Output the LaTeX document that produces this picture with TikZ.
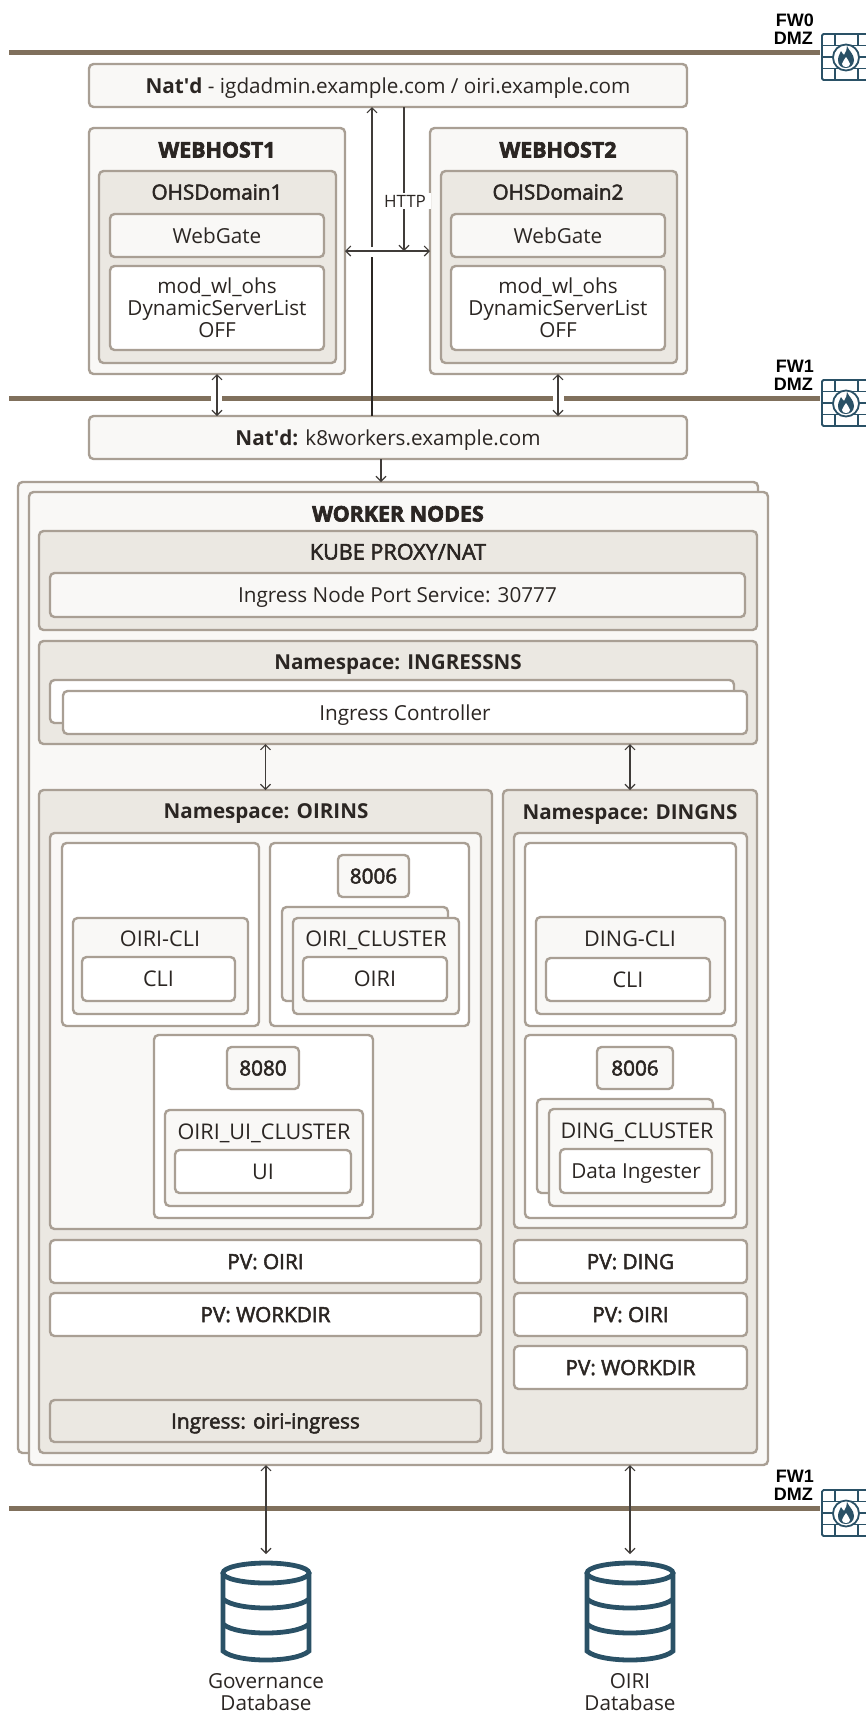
\documentclass[tikz,border=0pt]{standalone}
\usepackage{fontspec}
\usepackage{xcolor}
\setmainfont{Open Sans}
\newfontfamily\labelfont{Liberation Sans}
\usetikzlibrary{arrows.meta}

\definecolor{edgecol}{HTML}{A99F94}
\definecolor{lightcol}{HTML}{F9F8F6}
\definecolor{greycol}{HTML}{EBE8E2}
\definecolor{textcol}{HTML}{2B2623}
\definecolor{barcol}{HTML}{80705C}
\definecolor{bluecol}{HTML}{2A5166}

\newcommand{\mainsize}{\fontsize{20.7}{22}\selectfont}
\newcommand{\capsize}{\fontsize{21.6}{22}\selectfont}
\newcommand{\medw}{\addfontfeature{FakeBold=2.5}}
\newcommand{\heavy}{\bfseries\addfontfeature{FakeBold=3}}

\tikzset{
	basebox/.style={draw=edgecol, line width=2.4pt, rounded corners=4.5pt, inner sep=0pt, outer sep=0pt, text=textcol, font=\mainsize, text height=15pt, text depth=0pt},
	lightbox/.style={basebox, fill=lightcol},
	greybox/.style={basebox, fill=greycol},
	whitebox/.style={basebox, fill=white},
	capbox/.style={whitebox, font=\capsize},
	medbox/.style={font=\mainsize\medw},
	title/.style={text=textcol, inner sep=0pt, font=\capsize, text height=15pt, text depth=0pt},
	boldtitle/.style={title, font=\fontsize{20.6}{22}\selectfont\bfseries},
	medtitle/.style={title, font=\mainsize\medw},
	heavytitle/.style={title, font=\fontsize{21.4}{22}\selectfont\heavy},
	multi/.style={align=center, text height=, text depth=},
	bar/.style={draw=barcol, line width=5pt},
	link/.style={draw=textcol!90, line width=1.1pt, {Straight Barb[length=5pt,width=10pt]}-{Straight Barb[length=5pt,width=10pt]}},
	linkto/.style={draw=textcol!90, line width=1.1pt, -{Straight Barb[length=5pt,width=10pt]}},
	plain/.style={draw=textcol, line width=1.1pt},
	fwlabel/.style={font=\labelfont\bfseries\fontsize{18}{18}\selectfont, align=center, inner sep=0pt, text=black},
	dbline/.style={draw=bluecol, line width=4.8pt},
	fwline/.style={draw=bluecol, line width=1.8pt}
}

\newcommand{\bx}[7]{\node[#1, minimum width={(#5-#3)*1pt}, minimum height={(#6-#4)*1pt}] (#2) at ({(#3+#5)/2},{(#4+#6)/2}) {#7};}

\newcommand{\firewall}[2]{
	\node[fwlabel, anchor=east] at (814,#1-32) {FW#2};
	\node[fwlabel, anchor=east] at (813,#1-14) {DMZ};
	\begin{scope}[shift={(0,#1-52)}]
		\draw[fwline, rounded corners=1.5pt] (880,34) -- (822,34) -- (822,80) -- (880,80);
		\draw[fwline] (822,45.5) -- (880,45.5) (822,68.5) -- (880,68.5);
		\draw[fwline] (822,57) -- (834,57) (858,57) -- (880,57);
		\draw[fwline] (835,34) -- (835,45.5) (858,34) -- (858,45.5) (835,68.5) -- (835,80) (858,68.5) -- (858,80);
		\filldraw[fwline, fill=white] (846,57.5) circle (13);
		\fill[bluecol] (847,46) .. controls (849,51) and (854,54) .. (854,60) .. controls (854,65) and (850,68) .. (846,68) .. controls (841,68) and (838,65) .. (838,60) .. controls (838,56) and (840,54) .. (841,51) .. controls (842,53) and (843,54) .. (844,55) .. controls (846,52) and (847,49) .. (847,46) -- cycle;
		\fill[white] (846,57) .. controls (847,60) and (850,61) .. (850,64) .. controls (850,66) and (848,67) .. (846,67) .. controls (844,67) and (842,66) .. (842,64) .. controls (842,61) and (845,60) .. (846,57) -- cycle;
	\end{scope}
}

\newcommand{\dbicon}[1]{
	\begin{scope}[shift={(#1,0)}]
		\draw[dbline] (0,1573) ellipse (43 and 10);
		\draw[dbline, line cap=round] (-43,1573) -- (-43,1651) .. controls (-30,1663) and (30,1663) .. (43,1651) -- (43,1573);
		\draw[dbline] (-43,1599) .. controls (-30,1611) and (30,1611) .. (43,1599);
		\draw[dbline] (-43,1624) .. controls (-30,1636) and (30,1636) .. (43,1624);
	\end{scope}
}

\begin{document}
\begin{tikzpicture}[x=1pt, y=-1pt]

	\useasboundingbox (0,0) rectangle (866,1714);

	\draw[bar] (9,52) -- (820,52);
	\draw[bar] (9,398) -- (211,398) (222,398) -- (553,398) (564,398) -- (820,398);
	\draw[bar] (9,1508) -- (820,1508);

	\firewall{52}{0}
	\firewall{398}{1}
	\firewall{1508}{1}

	\bx{lightbox}{natone}{89}{64}{687}{107}{\textbf{Nat\textquotesingle d} - igdadmin.example.com / oiri.example.com}

	\bx{lightbox}{hostone}{89}{128}{345}{374}{}
	\bx{greybox}{domone}{99}{171}{336}{363}{}
	\bx{lightbox}{gateone}{110}{214}{324}{257}{WebGate}
	\bx{whitebox, multi}{modone}{110}{266}{324}{350}{mod\_wl\_ohs\\DynamicServerList\\OFF}
	\node[heavytitle] (hostonet) at (217,150) {WEBHOST1};
	\node[medtitle] (domonet) at (217,192) {OHSDomain1};

	\bx{lightbox}{hosttwo}{430}{128}{687}{374}{}
	\bx{greybox}{domtwo}{441}{171}{677}{363}{}
	\bx{lightbox}{gatetwo}{451}{214}{665}{257}{WebGate}
	\bx{whitebox, multi}{modtwo}{451}{266}{665}{350}{mod\_wl\_ohs\\DynamicServerList\\OFF}
	\node[heavytitle] (hosttwot) at (558,150) {WEBHOST2};
	\node[medtitle] (domtwot) at (558,192) {OHSDomain2};

	\bx{lightbox}{nattwo}{89}{416}{687}{459}{\textbf{Nat\textquotesingle d:} k8workers.example.com}

	\bx{lightbox}{backwork}{18}{482}{758}{1453}{}
	\bx{lightbox}{work}{29}{492}{768}{1465}{}
	\node[heavytitle] (workt) at (398,514) {WORKER NODES};

	\bx{greybox}{kube}{39}{531}{757}{630}{}
	\node[title, font=\capsize\medw] (kubet) at (398,552) {KUBE PROXY/NAT};
	\bx{lightbox}{nodeport}{50}{573}{745}{617}{Ingress Node Port Service: 30777}

	\bx{greybox}{ingns}{39}{641}{757}{744}{}
	\node[boldtitle] (ingnst) at (398,662) {Namespace: INGRESSNS};
	\bx{whitebox}{backctl}{50}{680}{734}{723}{}
	\bx{whitebox}{ctl}{63}{691}{747}{734}{Ingress Controller}

	\bx{greybox}{oirins}{39}{790}{492}{1453}{}
	\node[boldtitle] (oirinst) at (266,811) {Namespace: OIRINS};
	\bx{lightbox}{oiripod}{50}{833}{481}{1229}{}

	\bx{whitebox}{clibox}{62}{843}{259}{1026}{}
	\bx{lightbox}{oiricli}{73}{918}{248}{1014}{}
	\node[title] (oiriclit) at (160,939) {OIRI-CLI};
	\bx{capbox}{cli}{82}{957}{235}{1001}{CLI}

	\bx{whitebox}{oiribox}{270}{843}{469}{1026}{}
	\bx{lightbox, medbox}{portoiri}{338}{855}{409}{897}{8006}
	\bx{lightbox}{backoiri}{282}{907}{448}{1001}{}
	\bx{lightbox}{oiriclu}{293}{918}{459}{1014}{}
	\node[title] (oiriclut) at (376,939) {OIRI\_CLUSTER};
	\bx{capbox}{oiri}{303}{957}{447}{1001}{OIRI}

	\bx{whitebox}{uibox}{154}{1035}{373}{1218}{}
	\bx{lightbox, medbox}{portui}{227}{1047}{299}{1089}{8080}
	\bx{lightbox}{uiclu}{165}{1110}{363}{1206}{}
	\node[title] (uiclut) at (264,1132) {OIRI\_UI\_CLUSTER};
	\bx{capbox}{ui}{175}{1150}{351}{1193}{UI}

	\bx{whitebox, medbox}{pvoiri}{50}{1240}{481}{1283}{PV: OIRI}
	\bx{whitebox, medbox}{pvwork}{50}{1293}{481}{1336}{PV: WORKDIR}
	\bx{greybox, medbox}{ingress}{50}{1400}{481}{1442}{Ingress: oiri-ingress}

	\bx{greybox}{dingns}{503}{790}{757}{1453}{}
	\node[boldtitle] (dingnst) at (630,812) {Namespace: DINGNS};
	\bx{lightbox}{dingpod}{514}{833}{747}{1228}{}

	\bx{whitebox}{dclibox}{525}{843}{736}{1026}{}
	\bx{lightbox}{dingcli}{536}{917}{725}{1014}{}
	\node[title] (dingclit) at (630,939) {DING-CLI};
	\bx{capbox}{dcli}{546}{958}{710}{1001}{CLI}

	\bx{whitebox}{dingbox}{525}{1035}{736}{1218}{}
	\bx{lightbox, medbox}{portding}{597}{1047}{673}{1089}{8006}
	\bx{lightbox}{backding}{537}{1099}{713}{1193}{}
	\bx{lightbox}{dingclu}{549}{1109}{725}{1206}{}
	\node[title] (dingclut) at (637,1131) {DING\_CLUSTER};
	\bx{whitebox}{ingester}{560}{1149}{712}{1193}{Data Ingester}

	\bx{whitebox, medbox}{pvding}{514}{1240}{747}{1283}{PV: DING}
	\bx{whitebox, medbox}{pvdoiri}{514}{1293}{747}{1336}{PV: OIRI}
	\bx{whitebox, medbox}{pvdwork}{514}{1346}{747}{1389}{PV: WORKDIR}

	\coordinate (upline) at (372,0);
	\coordinate (httpline) at (404,0);
	\coordinate (workline) at (381,0);
	\coordinate (crossa) at (372,257);
	\coordinate (crossb) at (372,247);
	\coordinate (hostleft) at (217,0);
	\coordinate (hostright) at (558,0);

	\draw[plain] (upline |- nattwo.north) -- (crossa);
	\draw[linkto] (crossb) -- (upline |- natone.south);
	\draw[linkto] (httpline |- natone.south) -- (httpline |- hostone.east);
	\draw[link] (hostone.east) -- (hosttwo.west);
	\node[inner sep=0pt, fill=white, minimum width=48pt, minimum height=16pt, text width=46pt, align=left, text=textcol, font=\fontsize{17}{18}\selectfont] (http) at (407,201) {HTTP};

	\draw[link] (hostleft |- hostone.south) -- (hostleft |- nattwo.north);
	\draw[link] (hostright |- hosttwo.south) -- (hostright |- nattwo.north);
	\draw[linkto] (workline |- nattwo.south) -- (workline |- backwork.north);

	\draw[link] (oirins.north |- ingns.south) -- (oirins.north);
	\draw[link] (dingns.north |- ingns.south) -- (dingns.north);

	\dbicon{266}
	\dbicon{630}
	\node[title, multi, font=\mainsize] (govdb) at (266,1692) {Governance\\Database};
	\node[title, multi, font=\mainsize] (oiridb) at (630,1692) {OIRI\\Database};

	\coordinate (govtop) at (266,1554);
	\coordinate (oiritop) at (630,1554);
	\draw[link] (govtop |- work.south) -- (govtop);
	\draw[link] (oiritop |- work.south) -- (oiritop);

\end{tikzpicture}
\end{document}
